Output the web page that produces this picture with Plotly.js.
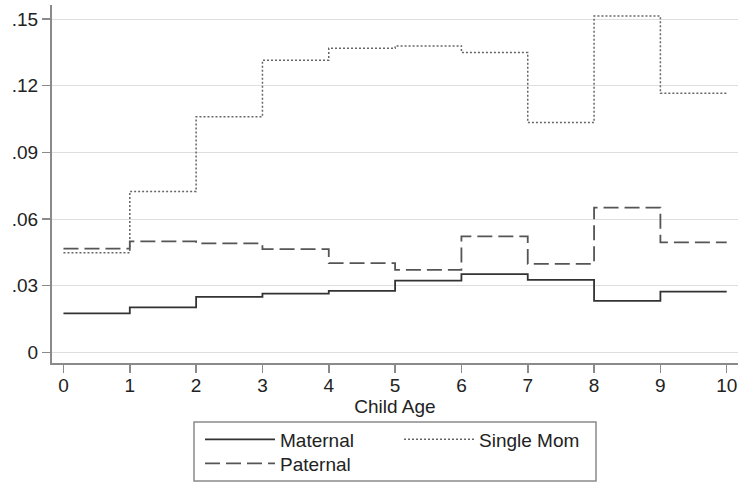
<!DOCTYPE html>
<html>
<head>
<meta charset="utf-8">
<script src="https://cdn.plot.ly/plotly-3.0.1.min.js"></script>
<style>html,body{margin:0;padding:0;background:#fff;}#chart{width:741px;height:484px;}</style>
</head>
<body>
<div id="chart"></div>
<script>
// Child ages (step start points); last point closes the final step at age 10
const childAge = [0, 1, 2, 3, 4, 5, 6, 7, 8, 9, 10];
const maternal = [0.0175, 0.0202, 0.0250, 0.0264, 0.0277, 0.0323, 0.0352, 0.0326, 0.0232, 0.0273, 0.0273];
const paternal = [0.0467, 0.0499, 0.0490, 0.0464, 0.0401, 0.0371, 0.0522, 0.0398, 0.0651, 0.0495, 0.0495];
const singleMom = [0.0448, 0.0724, 0.1060, 0.1314, 0.1368, 0.1379, 0.1349, 0.1034, 0.1513, 0.1166, 0.1166];
const yTickVals = [0, 0.03, 0.06, 0.09, 0.12, 0.15];
const yTickText = ['0', '.03', '.06', '.09', '.12', '.15'];
const xTickVals = [0, 1, 2, 3, 4, 5, 6, 7, 8, 9, 10];

const FONT = 'Liberation Sans, Arial, sans-serif';
const FS = 19;

const traces = [
  {x: childAge, y: maternal, name: 'Maternal', mode: 'lines', legend: 'legend',
   line: {shape: 'hv', color: '#333333', width: 1.8}},
  {x: childAge, y: singleMom, name: 'Single Mom', mode: 'lines', legend: 'legend',
   line: {shape: 'hv', color: '#666666', width: 1.5, dash: '2px,2px'}},
  {x: childAge, y: paternal, name: 'Paternal', mode: 'lines', legend: 'legend2',
   line: {shape: 'hv', color: '#555555', width: 1.8, dash: '15px,6px'}}
];

const layout = {
  width: 741, height: 484,
  margin: {l: 52, r: 3, t: 5, b: 121, autoexpand: false},
  paper_bgcolor: '#ffffff', plot_bgcolor: '#ffffff',
  font: {family: FONT, size: FS, color: '#222222'},
  showlegend: true,
  xaxis: {
    range: [-0.173, 10.17], tickvals: xTickVals,
    showgrid: false, zeroline: false,
    showline: true, linecolor: '#8a8a8a', linewidth: 2,
    ticks: 'outside', ticklen: 8, tickcolor: '#8a8a8a', tickwidth: 1.5,
    ticklabelstandoff: -4,
    tickfont: {size: FS, color: '#222222', family: FONT},
    title: {text: 'Child Age', font: {size: FS, color: '#222222', family: FONT}, standoff: 0},
    automargin: false, fixedrange: true
  },
  yaxis: {
    range: [-0.0048, 0.1563], tickvals: yTickVals, ticktext: yTickText,
    showgrid: true, gridcolor: '#dedede', gridwidth: 1, zeroline: false,
    showline: true, linecolor: '#8a8a8a', linewidth: 2,
    ticks: 'outside', ticklen: 8, tickcolor: '#8a8a8a', tickwidth: 1.5,
    tickfont: {size: FS, color: '#222222', family: FONT},
    automargin: false, fixedrange: true
  },
  legend: {
    orientation: 'h', x: (200 - 52) / 686, xanchor: 'left', y: -0.1606, yanchor: 'top',
    itemwidth: 70, entrywidth: 114, entrywidthmode: 'pixels',
    bgcolor: 'rgba(0,0,0,0)', borderwidth: 0,
    font: {size: FS, color: '#222222', family: FONT}, tracegroupgap: 0
  },
  legend2: {
    orientation: 'h', x: (200 - 52) / 686, xanchor: 'left', y: -0.2277, yanchor: 'top',
    itemwidth: 70, bgcolor: 'rgba(0,0,0,0)', borderwidth: 0,
    font: {size: FS, color: '#222222', family: FONT}
  },
  shapes: [
    {type: 'rect', xref: 'paper', yref: 'paper',
     x0: (194 - 52) / 686, x1: (596 - 52) / 686, y0: (363 - 481) / 358, y1: (363 - 422) / 358,
     line: {color: '#8a8a8a', width: 1.5}, fillcolor: 'rgba(0,0,0,0)', layer: 'above'}
  ]
};

Plotly.newPlot('chart', traces, layout, {displayModeBar: false, staticPlot: true});
</script>
</body>
</html>
